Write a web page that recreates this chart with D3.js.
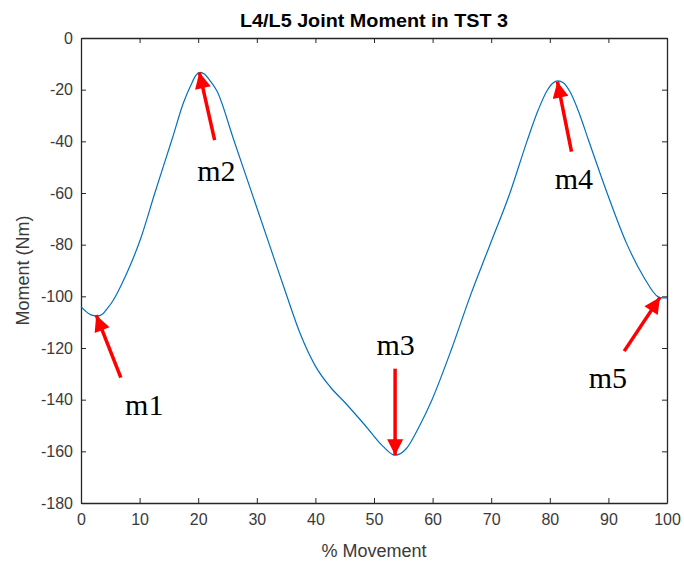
<!DOCTYPE html>
<html>
<head>
<meta charset="utf-8">
<script src="https://cdn.jsdelivr.net/npm/d3@7"></script>
<style>
  html, body { margin: 0; padding: 0; background: #fff; }
  svg { display: block; }
  .axis text { font-family: "Liberation Sans", Arial, sans-serif; font-size: 16px; fill: #3a3a3a; }
  .axis path, .axis line { stroke: #262626; }
</style>
</head>
<body>
<svg id="chart" width="684" height="564"></svg>
<script>
// ---- data ----
const movementPct = [0, 0.8, 1.7, 2.7, 3.7, 4.6, 5.5, 7, 8.5, 10.2, 12.6, 15.5, 17.5, 18.8, 19.6, 20.3, 21.1, 22, 23.2, 26, 29, 32, 35, 37.5, 40, 42.5, 45, 48.5, 51.5, 53.6, 55.5, 57.8, 59.9, 63.3, 66.4, 69.8, 73.2, 76.1, 78, 79.5, 80.5, 81.4, 82.3, 83.5, 85, 86.6, 89.7, 93.1, 96, 98.5, 99.2, 100];
const momentNm = [-104, -105.8, -107.2, -107.6, -106.8, -104.4, -101.5, -95, -87.5, -77.5, -60, -39.5, -25, -18, -14.5, -13.3, -14, -16.5, -20.5, -39, -59, -79, -99, -115, -127, -135, -141, -150, -158, -161.5, -159, -150, -140, -120, -100, -80, -60, -40, -28, -20.5, -17.5, -16.6, -17.3, -21, -29, -39.5, -59.5, -79.5, -92.4, -100.2, -100.6, -100.6];
const xTicks = [0, 10, 20, 30, 40, 50, 60, 70, 80, 90, 100];
const yTicks = [0, -20, -40, -60, -80, -100, -120, -140, -160, -180];
// markers: label, arrow tip / tail and label position, in data units
const markerLabels = ["m1", "m2", "m3", "m4", "m5"];
const markerTipX = [2.6, 20.2, 53.6, 81.3, 98.8];
const markerTipY = [-107.3, -13.3, -161.5, -16.9, -100.4];
const markerTailX = [6.8, 22.8, 53.6, 83.7, 92.7];
const markerTailY = [-131.5, -39.5, -128, -44, -121.2];
const markerLabelX = [10.8, 23.1, 53.7, 84.1, 89.9];
const markerLabelY = [-146, -55.3, -122.7, -58.5, -135.5];

// ---- layout ----
const svg = d3.select("#chart");
const mLeft = 81, mRight = 667, mTop = 38, mBottom = 503;
const x = d3.scaleLinear().domain([0, 100]).range([mLeft, mRight]);
const y = d3.scaleLinear().domain([-180, 0]).range([mBottom, mTop]);
const fmt = d => String(d);

// axes (box with inward ticks)
svg.append("g").attr("class", "axis")
  .attr("transform", `translate(0,${mBottom})`)
  .call(d3.axisBottom(x).tickValues(xTicks).tickSizeInner(-5).tickSizeOuter(0).tickPadding(11).tickFormat(fmt))
  .call(g => g.select(".domain").attr("stroke-width", 1.3));
svg.append("g").attr("class", "axis")
  .attr("transform", `translate(0,${mTop})`)
  .call(d3.axisTop(x).tickValues(xTicks).tickSizeInner(-5).tickSizeOuter(0).tickFormat(""))
  .call(g => g.select(".domain").attr("stroke-width", 1.3));
svg.append("g").attr("class", "axis")
  .attr("transform", `translate(${mLeft},0)`)
  .call(d3.axisLeft(y).tickValues(yTicks).tickSizeInner(-5).tickSizeOuter(0).tickPadding(8).tickFormat(fmt))
  .call(g => g.select(".domain").attr("stroke-width", 1.3));
svg.append("g").attr("class", "axis")
  .attr("transform", `translate(${mRight},0)`)
  .call(d3.axisRight(y).tickValues(yTicks).tickSizeInner(-5).tickSizeOuter(0).tickFormat(""))
  .call(g => g.select(".domain").attr("stroke-width", 1.3));

// line
const pts = movementPct.map((d, i) => [d, momentNm[i]]);
svg.append("path")
  .datum(pts)
  .attr("fill", "none")
  .attr("stroke", "#0072BD")
  .attr("stroke-width", 1.2)
  .attr("d", d3.line().x(d => x(d[0])).y(d => y(d[1])).curve(d3.curveMonotoneX));

// title and axis labels
svg.append("text")
  .attr("x", (mLeft + mRight) / 2).attr("y", 27)
  .attr("text-anchor", "middle")
  .attr("textLength", 268).attr("lengthAdjust", "spacingAndGlyphs")
  .style("font-family", "'Liberation Sans', Arial, sans-serif")
  .style("font-size", "18px").style("font-weight", "bold").style("fill", "#000")
  .text("L4/L5 Joint Moment in TST 3");
svg.append("text")
  .attr("x", (mLeft + mRight) / 2).attr("y", 557)
  .attr("text-anchor", "middle")
  .style("font-family", "'Liberation Sans', Arial, sans-serif")
  .style("font-size", "18px").style("fill", "#3a3a3a")
  .text("% Movement");
svg.append("text")
  .attr("transform", `translate(29,${(mTop + mBottom) / 2}) rotate(-90)`)
  .attr("text-anchor", "middle")
  .style("font-family", "'Liberation Sans', Arial, sans-serif")
  .style("font-size", "18px").style("fill", "#3a3a3a")
  .text("Moment (Nm)");

// arrows
const defs = svg.append("defs");
defs.append("marker")
  .attr("id", "head").attr("viewBox", "0 0 10 10")
  .attr("refX", 10).attr("refY", 5)
  .attr("markerUnits", "userSpaceOnUse")
  .attr("markerWidth", 20).attr("markerHeight", 16)
  .attr("orient", "auto")
  .append("path").attr("d", "M0,0 L10,5 L0,10 Z").attr("fill", "#ff0000");

const mk = svg.append("g");
markerLabels.forEach((lab, i) => {
  mk.append("line")
    .attr("x1", x(markerTailX[i])).attr("y1", y(markerTailY[i]))
    .attr("x2", x(markerTipX[i])).attr("y2", y(markerTipY[i]))
    .attr("stroke", "#ff0000").attr("stroke-width", 3.5)
    .attr("marker-end", "url(#head)");
  mk.append("text")
    .attr("x", x(markerLabelX[i])).attr("y", y(markerLabelY[i]))
    .attr("text-anchor", "middle")
    .style("font-family", "'Liberation Serif', 'Times New Roman', serif")
    .style("font-size", "30px").style("fill", "#000")
    .text(lab);
});
</script>
</body>
</html>
